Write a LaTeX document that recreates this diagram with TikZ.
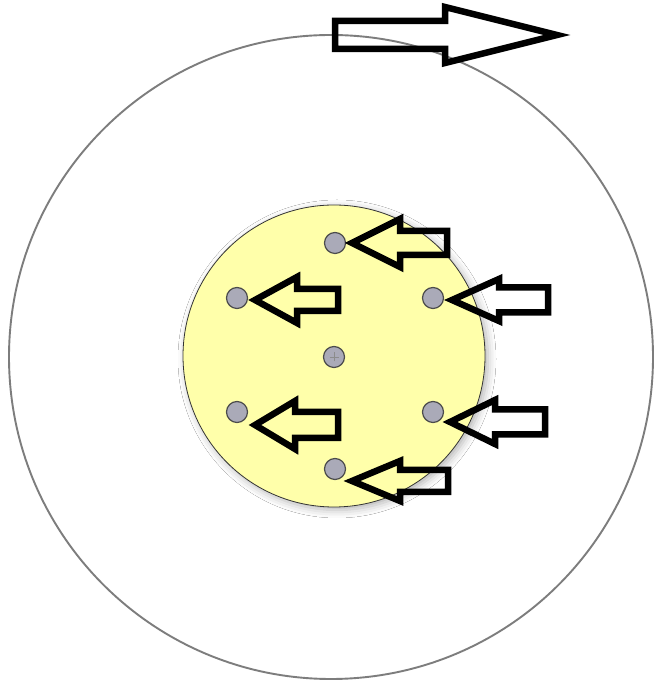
\documentclass[tikz,border=0pt]{standalone}
\usetikzlibrary{shadows.blur}
\definecolor{paleyellow}{RGB}{255,255,170}
\definecolor{dotgray}{RGB}{170,170,184}
\definecolor{ringgray}{RGB}{125,125,125}
\newcommand\blkarrow[6]{%
  \draw[arrowline] (#1,#2) -- (#3,#2+#4) -- (#3,#2+#5) -- (#6,#2+#5)
    -- (#6,#2-#5) -- (#3,#2-#5) -- (#3,#2-#4) -- cycle;}
\begin{document}
\begin{tikzpicture}[x=1pt,y=1pt,
  ring/.style={draw=ringgray,line width=1.9pt},
  disc/.style={circle,draw=black!80,line width=0.8pt,fill=paleyellow,minimum size=302pt,inner sep=0pt,
    blur shadow={shadow xshift=3pt,shadow yshift=-3pt,shadow blur radius=8pt,shadow opacity=30}},
  hole/.style={circle,draw=black!70,line width=1.2pt,fill=dotgray,minimum size=21pt,inner sep=0pt},
  arrowline/.style={draw=black,line width=6.5pt,line join=miter,miter limit=10}]
\useasboundingbox (0,0) rectangle (653,687);
\fill[white] (0,0) rectangle (653,687);
\draw[ring] (331,330) circle[radius=322];
\node[disc] (disc) at (334,331) {};
\node[hole] (hT) at (335,444) {};
\node[hole] (hLU) at (237,389) {};
\node[hole] (hRU) at (433,389) {};
\node[hole] (hC) at (334,330) {};
\node[hole] (hLL) at (237,275) {};
\node[hole] (hRL) at (433,275) {};
\node[hole] (hB) at (335,218) {};
\draw[black!45,line width=0.7pt] ([xshift=-4.5pt]hC.center) -- ([xshift=4.5pt]hC.center)
  ([yshift=-4.5pt]hC.center) -- ([yshift=4.5pt]hC.center);
\blkarrow{352}{444}{400}{24}{12}{447}
\blkarrow{255}{387}{297}{23}{11}{338}
\blkarrow{452}{387}{499}{21}{12.5}{548}
\blkarrow{255}{262}{295}{24}{13}{338}
\blkarrow{450}{265}{495}{22}{12.5}{545}
\blkarrow{352}{206}{400}{20}{11}{448}
\draw[arrowline] (557,652) -- (445,680) -- (445,666) -- (335,666) -- (335,638)
  -- (445,638) -- (445,624) -- cycle;
\end{tikzpicture}
\end{document}
